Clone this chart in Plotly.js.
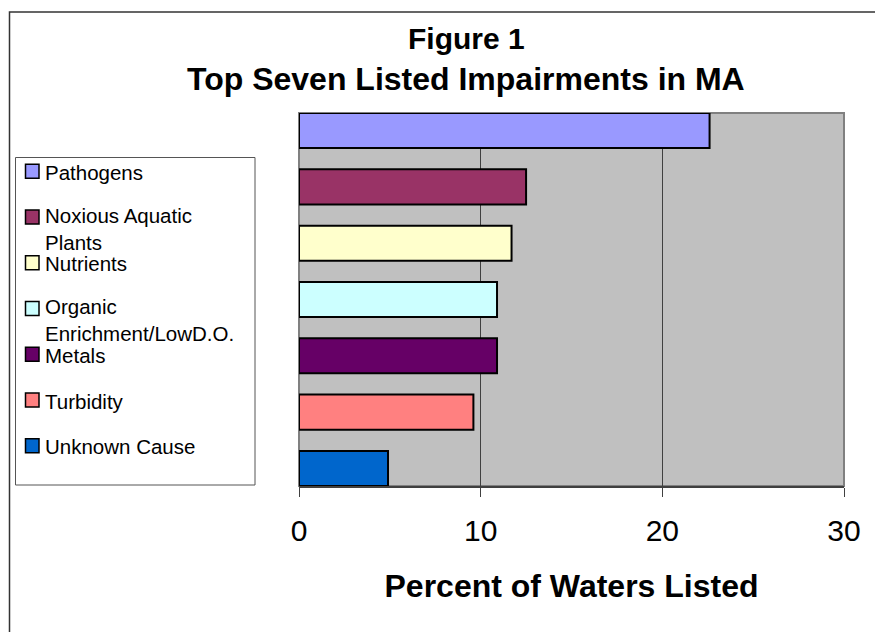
<!DOCTYPE html>
<html>
<head>
<meta charset="utf-8">
<script src="https://cdn.plot.ly/plotly-3.0.1.min.js"></script>
<style>html,body{margin:0;padding:0;background:#fff;}#chart{width:875px;height:632px;}</style>
</head>
<body>
<div id="chart"></div>
<script>
// ---- data ----
const categories = ["Pathogens", "Noxious Aquatic Plants", "Nutrients", "Organic Enrichment/LowD.O.", "Metals", "Turbidity", "Unknown Cause"];
const legendLabels = ["Pathogens", "Noxious Aquatic<br>Plants", "Nutrients", "Organic<br>Enrichment/LowD.O.", "Metals", "Turbidity", "Unknown Cause"];
const percentListed = [22.6, 12.5, 11.7, 10.9, 10.9, 9.6, 4.9];
const barColors = ["#9999FF", "#993366", "#FFFFCC", "#CCFFFF", "#660066", "#FF8080", "#0066CC"];
const xTicks = [0, 10, 20, 30];

// ---- layout geometry (pixels) ----
const W = 875, H = 632;
const M = {l: 299, r: 31, t: 113, b: 146};
const PW = W - M.l - M.r, PH = H - M.t - M.b;
const px = x => (x - M.l) / PW;           // pixel x -> paper
const py = y => (H - M.b - y) / PH;       // pixel y -> paper
const FONT = "Liberation Sans, Arial, Helvetica, sans-serif";

const trace = {
  type: "bar",
  orientation: "h",
  y: categories,
  x: percentListed,
  marker: {color: barColors, line: {color: "#000000", width: 2}},
  showlegend: false,
  hoverinfo: "x+y"
};

const shapes = [];
const annotations = [];

// plot-area border (gray)
shapes.push({type: "rect", xref: "paper", yref: "paper", x0: 0, x1: 1, y0: 0, y1: 1,
  line: {color: "#808080", width: 2}, fillcolor: "rgba(0,0,0,0)", layer: "below"});
// outer chart border
shapes.push({type: "rect", xref: "paper", yref: "paper", x0: px(9.5), x1: px(890), y0: py(650), y1: py(12),
  line: {color: "#333333", width: 1.5}, fillcolor: "rgba(0,0,0,0)", layer: "above"});
// legend box
shapes.push({type: "rect", xref: "paper", yref: "paper", x0: px(15.5), x1: px(255), y0: py(485), y1: py(157.5),
  line: {color: "#555555", width: 1}, fillcolor: "#FFFFFF", layer: "above"});

const legFont = 20.5;
categories.forEach((c, i) => {
  const cy = 171.3 + i * 45.75;
  shapes.push({type: "rect", xref: "paper", yref: "paper", x0: px(25.5), x1: px(39), y0: py(cy + 7), y1: py(cy - 7),
    line: {color: "#000000", width: 1.5}, fillcolor: barColors[i], layer: "above"});
  const nLines = legendLabels[i].split("<br>").length;
  const shift = nLines > 1 ? (nLines - 1) * 1.3 * legFont / 2 - 2.5 : 0;
  annotations.push({xref: "paper", yref: "paper", x: px(43), y: py(cy + 1 + shift),
    xanchor: "left", yanchor: "middle", align: "left", showarrow: false,
    text: legendLabels[i], font: {family: FONT, size: legFont, color: "#000000"}});
});

// title lines
annotations.push({xref: "paper", yref: "paper", x: px(466), y: py(38.8), xanchor: "center", yanchor: "middle",
  showarrow: false, text: "<b>Figure 1</b>", font: {family: FONT, size: 30, color: "#000000"}});
annotations.push({xref: "paper", yref: "paper", x: px(466), y: py(79.2), xanchor: "center", yanchor: "middle",
  showarrow: false, text: "<b>Top Seven Listed Impairments in MA</b>", font: {family: FONT, size: 32, color: "#000000"}});

const layout = {
  width: W, height: H, autosize: false,
  margin: {l: M.l, r: M.r, t: M.t, b: M.b, pad: 0},
  paper_bgcolor: "#FFFFFF",
  plot_bgcolor: "#C0C0C0",
  bargap: 0.377,
  font: {family: FONT, color: "#000000"},
  xaxis: {
    range: [0, 30], tickmode: "array", tickvals: xTicks, ticktext: xTicks.map(String),
    showgrid: true, gridcolor: "#404040", gridwidth: 1, zeroline: false,
    showline: true, linecolor: "#404040", linewidth: 2,
    ticks: "outside", ticklen: 9, tickcolor: "#404040", tickwidth: 1,
    ticklabelstandoff: 8,
    tickfont: {family: FONT, size: 30, color: "#000000"},
    title: {text: "<b>Percent of Waters Listed</b>", font: {family: FONT, size: 32, color: "#000000"}, standoff: 29},
    fixedrange: true
  },
  yaxis: {
    type: "category", categoryorder: "array", categoryarray: categories,
    range: [6.311, -0.311], showticklabels: false, showgrid: false, zeroline: false,
    showline: false, ticks: "", fixedrange: true
  },
  shapes: shapes,
  annotations: annotations,
  showlegend: false
};

Plotly.newPlot("chart", [trace], layout, {displayModeBar: false, staticPlot: true});
</script>
</body>
</html>
